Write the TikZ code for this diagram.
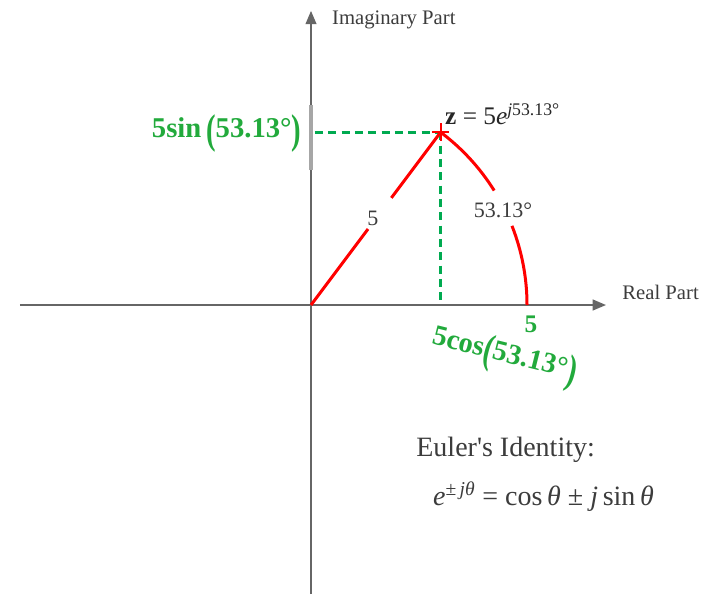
\documentclass[tikz,border=0pt]{standalone}
\usepackage{fontspec}
\setmainfont{Liberation Serif}
\newfontfamily\plainserif{Liberation Serif}
\usetikzlibrary{arrows.meta,calc}
\definecolor{axisgray}{RGB}{102,102,102}
\definecolor{dgreen}{RGB}{34,170,60}
\definecolor{dashgreen}{RGB}{0,170,80}
\definecolor{txt}{RGB}{60,60,60}
\newcommand{\tallp}[1]{\raisebox{-0.18em}{\scalebox{1}[1.45]{#1}}}
\begin{document}
\begin{tikzpicture}[x=32.4pt,y=32.4pt,
  axis/.style={draw=axisgray,line width=1.5pt,-{Triangle[length=10pt,width=8pt]}},
  redline/.style={draw=red,line width=2.25pt},
  gdash/.style={draw=dashgreen,line width=2.25pt,dash pattern=on 6pt off 4pt},
  axlabel/.style={text=txt,font=\fontsize{15.5}{18}\selectfont},
  glabel/.style={text=dgreen,font=\bfseries\fontsize{21.5}{25}\selectfont,inner sep=0pt},
  numlabel/.style={text=txt,font=\fontsize{16.5}{20}\selectfont,inner sep=1pt},
  bigtext/.style={text=txt,font=\fontsize{21}{25}\selectfont}]
\useasboundingbox (-7.199,-6.690) rectangle (9.444,7.060);
\coordinate (o) at (0,0);
\coordinate (xs) at (-6.736,0);
\coordinate (xe) at (6.83,0);
\coordinate (ys) at (0,-6.69);
\coordinate (ye) at (0,6.81);
\coordinate (z) at (3,4);
\coordinate (r5) at (5,0);
\coordinate (zx) at (3,0);
\coordinate (zy) at (0.09,4);
\coordinate (gb) at (0,3.12);
\coordinate (gt) at (0,4.63);
% axes
\draw[axis] (xs) -- (xe);
\draw[axis] (ys) -- (ye);
\draw[draw=black!35,line width=2.5pt] (gb) -- (gt);
% projections
\draw[gdash] (zy) -- (z);
\draw[gdash] (z) -- (zx);
% vector with gap
\draw[redline] (o) -- ($(o)!0.44!(z)$);
\draw[redline] ($(o)!0.62!(z)$) -- (z);
% arc with gap
\draw[redline] (r5) arc[start angle=0,end angle=21.5,radius=5];
\draw[redline] ($(o)+(32:5)$) arc[start angle=32,end angle=53.13,radius=5];
% marker
\draw[red,line width=1.5pt] ($(z)+(-0.2,0)$) -- ($(z)+(0.2,0)$);
\draw[red,line width=1.5pt] ($(z)+(0,-0.2)$) -- ($(z)+(0,0.22)$);
% labels
\node[axlabel,anchor=west] (im) at (0.38,6.60) {Imaginary Part};
\node[axlabel,anchor=west] (re) at (7.10,0.30) {Real Part};
\node[anchor=west,text=black!85,font=\fontsize{19}{23}\selectfont,inner sep=0pt] (zl) at (3.10,4.42)
  {\textbf{z} = 5\textit{e}\textsuperscript{\textit{j}53.13°}};
\node[glabel,anchor=east] (sinl) at (-0.22,3.98) {5sin\,\tallp{(}53.13°\tallp{)}};
\node[numlabel] (l5) at (1.435,2.01) {5};
\node[numlabel] (lang) at (4.444,2.2) {53.13°};
\node[glabel,font=\bfseries\fontsize{19}{23}\selectfont] (g5) at (5.09,-0.44) {5};
\node[glabel,rotate=-14] (cosl) at (4.47,-1.20) {5cos\tallp{(}53.13°\tallp{)}};
\node[bigtext,anchor=west,font=\plainserif\fontsize{21}{25}\selectfont] (eu) at (2.33,-3.356) {Euler's Identity:};
\node[bigtext,anchor=west] (fm) at (2.72,-4.44)
  {\textit{e}\textsuperscript{±\,\textit{jθ}} = cos\,\textit{θ} ± \textit{j}\,sin\,\textit{θ}};
\end{tikzpicture}
\end{document}
